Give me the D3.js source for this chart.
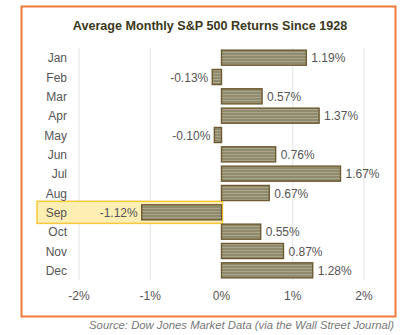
<!DOCTYPE html>
<html><head><meta charset="utf-8">
<script src="https://cdn.jsdelivr.net/npm/d3@7"></script>
<style>body{margin:0;background:#fff}svg{display:block;font-family:"Liberation Sans",Arial,sans-serif}</style>
</head><body><svg id="c" width="401" height="335"></svg>
<script>
const months = ["Jan","Feb","Mar","Apr","May","Jun","Jul","Aug","Sep","Oct","Nov","Dec"];
const returns = [1.19,-0.13,0.57,1.37,-0.10,0.76,1.67,0.67,-1.12,0.55,0.87,1.28];
const tickValues = [-2,-1,0,1,2];
const tickLabels = ["-2%","-1%","0%","1%","2%"];
const highlight = "Sep";
const titleText = "Average Monthly S&P 500 Returns Since 1928";
const sourceText = "Source: Dow Jones Market Data (via the Wall Street Journal)";

const svg = d3.select("#c");
const defs = svg.append("defs");
const pat = defs.append("pattern").attr("id","stripe").attr("patternUnits","userSpaceOnUse")
  .attr("width",4).attr("height",3);
pat.append("rect").attr("width",4).attr("height",3).attr("fill","#918b6d");
pat.append("rect").attr("y",1).attr("width",4).attr("height",1).attr("fill","#a9a68c");

// border
svg.append("rect").attr("x",21.5).attr("y",6.5).attr("width",374).attr("height",310)
  .attr("fill","#fff").attr("stroke","#f07a3a").attr("stroke-width",2);

svg.append("text").attr("x",210).attr("y",30).attr("text-anchor","middle")
  .attr("font-weight","bold").attr("font-size",12.6).attr("fill","#3a3820").text(titleText);

const x = d3.scaleLinear().domain([-2,2]).range([79,364]);
const y = d3.scaleBand().domain(months).range([48,280]).paddingInner(0.22).paddingOuter(0.11);

// gridlines
svg.append("g").selectAll("line").data(tickValues.filter(d=>d!==0)).join("line")
  .attr("x1",d=>x(d)).attr("x2",d=>x(d)).attr("y1",48).attr("y2",280)
  .attr("stroke","#e3e3e3").attr("stroke-width",1);

// highlight
svg.append("rect").attr("x",37).attr("y",y(highlight)-3.5)
  .attr("width",x(0)-37+1).attr("height",y.bandwidth()+7)
  .attr("fill","#fdeeb4").attr("stroke","#f6c93e").attr("stroke-width",1.5);

// bars
svg.append("g").selectAll("rect").data(months).join("rect")
  .attr("x",(d,i)=>x(Math.min(0,returns[i])))
  .attr("y",d=>y(d))
  .attr("width",(d,i)=>Math.abs(x(returns[i])-x(0)))
  .attr("height",y.bandwidth())
  .attr("fill","url(#stripe)").attr("stroke","#6e5a32").attr("stroke-width",1.4);

// value labels
svg.append("g").selectAll("text").data(months).join("text")
  .attr("x",(d,i)=>returns[i]>=0 ? x(returns[i])+5 : x(returns[i])-4)
  .attr("y",d=>y(d)+y.bandwidth()/2+4.5)
  .attr("text-anchor",(d,i)=>returns[i]>=0?"start":"end")
  .attr("font-size",12).attr("fill","#555")
  .text((d,i)=>returns[i].toFixed(2)+"%");

// month axis labels
svg.append("g").selectAll("text").data(months).join("text")
  .attr("x",67).attr("y",d=>y(d)+y.bandwidth()/2+4.5).attr("text-anchor","end")
  .attr("font-size",12).attr("fill","#555").text(d=>d);

// x tick labels
svg.append("g").selectAll("text").data(tickValues).join("text")
  .attr("x",d=>x(d)).attr("y",300).attr("text-anchor","middle")
  .attr("font-size",12).attr("fill","#555").text((d,i)=>tickLabels[i]);

svg.append("text").attr("x",394).attr("y",329).attr("text-anchor","end")
  .attr("font-style","italic").attr("font-size",11.3).attr("fill","#777").text(sourceText);
</script></body></html>
